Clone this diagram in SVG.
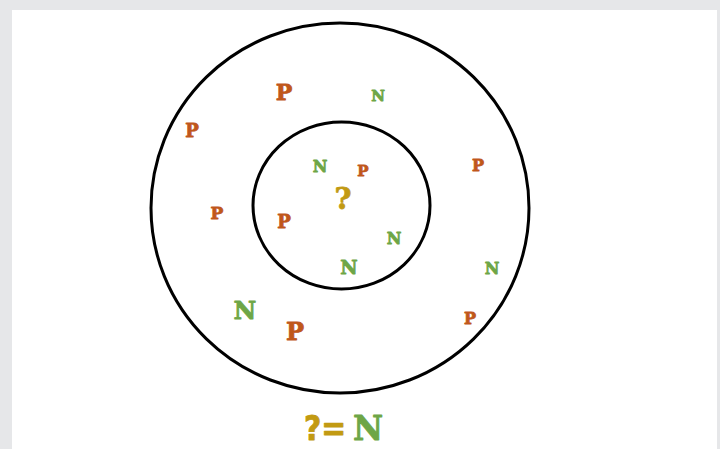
<svg xmlns="http://www.w3.org/2000/svg" width="720" height="449" viewBox="0 0 720 449">
<style>
.ring{fill:none;stroke:#000;stroke-width:3}
text{font-family:"DejaVu Serif","Liberation Serif",serif;font-weight:bold;text-anchor:middle;stroke-width:0.8;stroke-linejoin:round}
.p{fill:#c0571b;stroke:#c0571b}
.n{fill:#6ea646;stroke:#6ea646}
.q{fill:#c29a12;stroke:#c29a12}
.s{font-family:"DejaVu Sans Condensed","DejaVu Sans","Liberation Sans",sans-serif}
</style>
<rect width="720" height="449" fill="#e6e7e9"/>
<rect x="12" y="10" width="705" height="439" fill="#fff"/>
<g id="outer"><ellipse class="ring" cx="340" cy="208" rx="189" ry="185"/></g>
<g id="inner"><ellipse class="ring" cx="341.5" cy="205.5" rx="88.5" ry="83.5"/></g>
<g id="letters">
<text class="p" x="284" y="100" font-size="22">P</text>
<text class="n" x="378" y="100.5" font-size="15">N</text>
<text class="p" x="192" y="136.5" font-size="18">P</text>
<text class="n" x="320" y="172" font-size="16">N</text>
<text class="p" x="363" y="175.5" font-size="15">P</text>
<text class="p" x="478" y="171" font-size="16">P</text>
<text class="q" x="343" y="209" font-size="29">?</text>
<text class="p" x="217" y="218.5" font-size="17">P</text>
<text class="p" x="284" y="228" font-size="18">P</text>
<text class="n" x="394" y="244" font-size="16">N</text>
<text class="n" x="349" y="274" font-size="19">N</text>
<text class="n" x="492" y="274" font-size="16">N</text>
<text class="n" x="245" y="318.5" font-size="25">N</text>
<text class="p" x="295" y="340" font-size="24">P</text>
<text class="p" x="470" y="324" font-size="16">P</text>
</g>
<g id="legend">
<text class="q s" x="325" y="440" font-size="33">?=</text>
<text class="n" x="368" y="440" font-size="33">N</text>
</g>
</svg>
